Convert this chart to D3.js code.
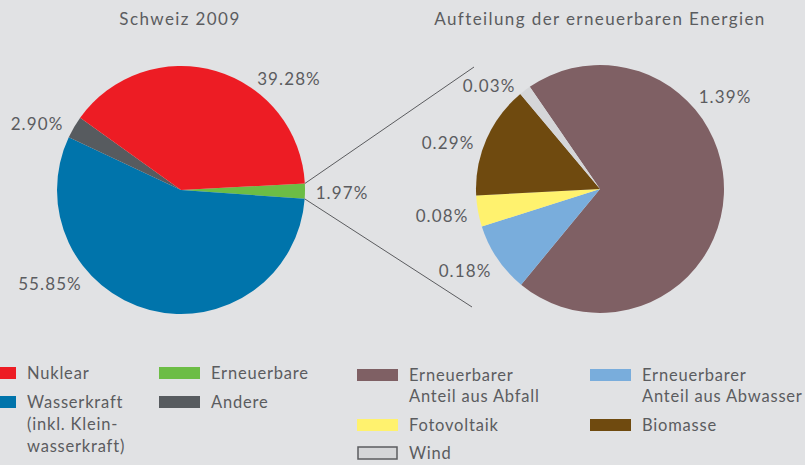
<!DOCTYPE html>
<html>
<head>
<meta charset="utf-8">
<script src="https://cdn.jsdelivr.net/npm/d3@7"></script>
<style>
	body { margin: 0; background: #e1e2e4; }
	svg text { font-family: Lato, "Open Sans", sans-serif; fill: #5b5c5f; }
</style>
</head>
<body>
<div id="chart-area"></div>
<script>

// SVG Size
let width = 805,
	height = 465;

// Schweiz 2009 (left pie), order as drawn clockwise from the green slice
let mainLabels = ["Erneuerbare", "Wasserkraft", "Andere", "Nuklear"];
let mainValues = [1.97, 55.85, 2.90, 39.28];
let mainColors = ["#6cbd45", "#0074ab", "#575b5f", "#ed1c24"];

// Aufteilung der erneuerbaren Energien (right pie)
let renewLabels = ["Abfall", "Abwasser", "Fotovoltaik", "Biomasse", "Wind"];
let renewValues = [1.39, 0.18, 0.08, 0.29, 0.03];
let renewColors = ["#7f6064", "#79addc", "#fff26e", "#6f4a0f", "#d5d6d8"];

// legend entries
let legendLeft = [
	{ lines: ["Nuklear"], color: "#ed1c24" },
	{ lines: ["Wasserkraft", "(inkl. Klein-", "wasserkraft)"], color: "#0074ab" },
	{ lines: ["Erneuerbare"], color: "#6cbd45" },
	{ lines: ["Andere"], color: "#575b5f" }
];
let legendRight = [
	{ lines: ["Erneuerbarer", "Anteil aus Abfall"], color: "#7f6064" },
	{ lines: ["Erneuerbarer", "Anteil aus Abwasser"], color: "#79addc" },
	{ lines: ["Fotovoltaik"], color: "#fff26e" },
	{ lines: ["Biomasse"], color: "#6f4a0f" },
	{ lines: ["Wind"], color: "#d5d6d8", outline: true }
];

let svg = d3.select("#chart-area")
	.append("svg")
	.attr("width", width)
	.attr("height", height);

let radius = 124;
let left = { x: 181, y: 190 },
	right = { x: 600, y: 189 };

let deg = Math.PI / 180;
let arc = d3.arc().innerRadius(0).outerRadius(radius);

// left pie
let mainPie = d3.pie().sort(null).startAngle(87 * deg).endAngle(447 * deg);
let mainArcs = mainPie(mainValues);

let gLeft = svg.append("g")
	.attr("transform", "translate(" + left.x + "," + left.y + ")");
gLeft.selectAll("path")
	.data(mainArcs)
	.enter()
	.append("path")
	.attr("d", arc)
	.attr("fill", (d, i) => mainColors[i]);

// right pie
let renewPie = d3.pie().sort(null).startAngle(-34.5 * deg).endAngle(325.5 * deg);
let renewArcs = renewPie(renewValues);

let gRight = svg.append("g")
	.attr("transform", "translate(" + right.x + "," + right.y + ")");
gRight.selectAll("path")
	.data(renewArcs)
	.enter()
	.append("path")
	.attr("d", arc)
	.attr("fill", (d, i) => renewColors[i]);

// connector lines from the green slice to the right pie
let green = mainArcs[0];
let edge = a => [left.x + radius * Math.sin(a), left.y - radius * Math.cos(a)];
let p1 = edge(green.startAngle), p2 = edge(green.endAngle);
svg.append("line")
	.attr("x1", p1[0]).attr("y1", p1[1])
	.attr("x2", right.x - 126).attr("y2", right.y - 122)
	.attr("stroke", "#5b5c5f").attr("stroke-width", 1);
svg.append("line")
	.attr("x1", p2[0]).attr("y1", p2[1])
	.attr("x2", right.x - 128).attr("y2", right.y + 118)
	.attr("stroke", "#5b5c5f").attr("stroke-width", 1);

// titles
svg.append("text")
	.attr("x", left.x - 1).attr("y", 25)
	.attr("text-anchor", "middle")
	.attr("font-size", 17)
	.attr("letter-spacing", 1.4)
	.text("Schweiz 2009");
svg.append("text")
	.attr("x", right.x).attr("y", 25)
	.attr("text-anchor", "middle")
	.attr("font-size", 17)
	.attr("letter-spacing", 1.4)
	.text("Aufteilung der erneuerbaren Energien");

// percentage labels (label positions around the pies)
let fmt = v => v.toFixed(2) + "%";
let mainLabelPos = [[342, 199], [50, 290], [37, 130], [289, 85]];
svg.selectAll(".main-label")
	.data(mainValues)
	.enter()
	.append("text")
	.attr("class", "main-label")
	.attr("x", (d, i) => mainLabelPos[i][0])
	.attr("y", (d, i) => mainLabelPos[i][1])
	.attr("text-anchor", "middle")
	.attr("font-size", 17)
	.attr("letter-spacing", 1.1)
	.text(fmt);

let renewLabelPos = [[725, 103], [465, 277], [442, 222], [448, 149], [489, 92]];
svg.selectAll(".renew-label")
	.data(renewValues)
	.enter()
	.append("text")
	.attr("class", "renew-label")
	.attr("x", (d, i) => renewLabelPos[i][0])
	.attr("y", (d, i) => renewLabelPos[i][1])
	.attr("text-anchor", "middle")
	.attr("font-size", 17)
	.attr("letter-spacing", 1.1)
	.text(fmt);

// legend
let legendPos = [[-25, 373], [-25, 402], [159, 373], [159, 402]];
let legendPosR = [[357, 375], [590, 375], [357, 425], [590, 425], [357, 453]];

function drawLegend(items, pos, lineH) {
	let g = svg.selectAll(null)
		.data(items)
		.enter()
		.append("g")
		.attr("transform", (d, i) => "translate(" + pos[i][0] + "," + pos[i][1] + ")");
	g.append("rect")
		.attr("x", d => d.outline ? 1 : 0)
		.attr("y", -6)
		.attr("width", d => d.outline ? 39 : 41)
		.attr("height", 12)
		.attr("fill", d => d.color)
		.attr("stroke", d => d.outline ? "#5b5c5f" : "none")
		.attr("stroke-width", 1.5);
	g.append("text")
		.attr("x", 52)
		.attr("y", 6)
		.attr("font-size", 16.5)
		.attr("letter-spacing", 0.8)
		.selectAll("tspan")
		.data(d => d.lines)
		.enter()
		.append("tspan")
		.attr("x", 52)
		.attr("dy", (d, i) => i === 0 ? 0 : lineH)
		.text(d => d);
}
drawLegend(legendLeft, legendPos, 22);
drawLegend(legendRight, legendPosR, 21);

</script>
</body>
</html>
